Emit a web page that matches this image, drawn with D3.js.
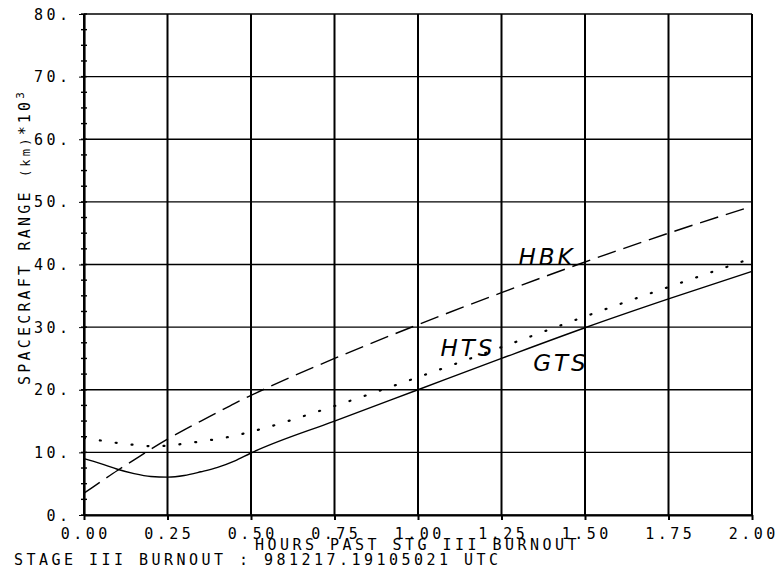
<!DOCTYPE html>
<html>
<head>
<meta charset="utf-8">
<script src="https://cdn.jsdelivr.net/npm/d3@7"></script>
<style>
  html, body { margin: 0; padding: 0; background: #fff; }
  svg { display: block; }
  .lbl { font-family: "DejaVu Sans Mono", monospace; font-size: 15px; letter-spacing: 3.47px; fill: #000; }
  .hand { font-family: "DejaVu Sans", sans-serif; font-style: italic; font-size: 23px; letter-spacing: 3px; fill: #000; }
</style>
</head>
<body>
<script>
// Hours after stage III burnout
const hours = [0, 0.05, 0.1, 0.15, 0.2, 0.25, 0.3, 0.35, 0.4, 0.45, 0.5, 0.75, 1.0, 1.25, 1.5, 1.75, 2.0];
// Range to each station, thousands of km
const gts = [9.0, 8.2, 7.3, 6.6, 6.15, 6.05, 6.3, 6.9, 7.6, 8.6, 9.9, 15.0, 20.0, 25.0, 29.9, 34.5, 38.9];
const hts = [12.3, 11.9, 11.5, 11.2, 11.0, 11.05, 11.4, 11.75, 12.15, 12.65, 13.3, 17.4, 22.0, 26.8, 31.7, 36.4, 41.0];
const hbk = [3.5, 5.3, 7.1, 8.8, 10.5, 12.1, 13.6, 15.0, 16.4, 17.8, 19.1, 25.0, 30.4, 35.5, 40.4, 45.0, 49.3];

const xTicks = [0, 0.25, 0.5, 0.75, 1.0, 1.25, 1.5, 1.75, 2.0];
const xTickLabels = ["0.00", "0.25", "0.50", "0.75", "1.00", "1.25", "1.50", "1.75", "2.00"];
const yTicks = [0, 10, 20, 30, 40, 50, 60, 70, 80];
const yTickLabels = ["0.", "10.", "20.", "30.", "40.", "50.", "60.", "70.", "80."];
const yMinorTicks = d3.range(0, 80.01, 2.5);

const xTitle = "HOURS PAST STG III BURNOUT";
const footer = "STAGE III BURNOUT : 981217.19105021 UTC";
const stationNames = ["HBK", "HTS", "GTS"];

const W = 780, H = 585;
const PITCH = 12.5;              // plotter character cell: 9.03px glyph advance + 3.47px spacing
const inkWidth = s => s.length * PITCH - 3.47;

const svg = d3.select("body").append("svg").attr("width", W).attr("height", H);

const x = d3.scaleLinear().domain([0, 2]).range([84, 752]);
const y = d3.scaleLinear().domain([0, 80]).range([515, 14]);

// grid
const g = svg.append("g");
g.selectAll("line.h").data(yTicks).join("line")
  .attr("x1", x(0)).attr("x2", x(2))
  .attr("y1", d => y(d)).attr("y2", d => y(d))
  .attr("stroke", "#000").attr("stroke-width", 1.4);
g.selectAll("line.v").data(xTicks).join("line")
  .attr("x1", d => x(d)).attr("x2", d => x(d))
  .attr("y1", y(0)).attr("y2", y(80))
  .attr("stroke", "#000").attr("stroke-width", 2);

// bottom axis (ticks only; labels placed below in plotter spacing)
const gx = svg.append("g").attr("transform", `translate(0,${y(0)})`)
  .call(d3.axisBottom(x).tickValues(xTicks).tickFormat("").tickSizeInner(5).tickSizeOuter(0));
gx.select(".domain").attr("stroke-width", 1.8);
gx.selectAll(".tick line").attr("stroke-width", 2);
svg.append("g").selectAll("text").data(xTicks).join("text")
  .attr("class", "lbl").attr("text-anchor", "start")
  .attr("x", (d, i) => x(d) - inkWidth(xTickLabels[i]) / 2)
  .attr("y", y(0) + 24)
  .text((d, i) => xTickLabels[i]);

// left axis
const gy = svg.append("g").attr("transform", `translate(${x(0)},0)`)
  .call(d3.axisLeft(y).tickValues(yTicks).tickFormat("").tickSizeInner(5).tickSizeOuter(0));
gy.select(".domain").attr("stroke-width", 2.2);
svg.append("g").selectAll("text").data(yTicks).join("text")
  .attr("class", "lbl").attr("text-anchor", "start")
  .attr("x", (d, i) => x(0) - 16 - inkWidth(yTickLabels[i]))
  .attr("y", d => y(d) + 5.5)
  .text((d, i) => yTickLabels[i]);

// minor ticks on the left axis
svg.append("g").selectAll("line").data(yMinorTicks).join("line")
  .attr("x1", x(0) - 3).attr("x2", x(0) + 3)
  .attr("y1", d => y(d)).attr("y2", d => y(d))
  .attr("stroke", "#000").attr("stroke-width", 1.4);

// curves: HBK long dashes, HTS dots, GTS solid
const series = [
  { name: "HBK", values: hbk, dash: "19,8", width: 1.4, cap: "butt" },
  { name: "HTS", values: hts, dash: "1,15", width: 2.2, cap: "round" },
  { name: "GTS", values: gts, dash: null, width: 1.4, cap: "butt" }
];
const line = d3.line().x((d, i) => x(hours[i])).y(d => y(d)).curve(d3.curveMonotoneX);
svg.append("g").selectAll("path").data(series).join("path")
  .attr("d", d => line(d.values))
  .attr("fill", "none").attr("stroke", "#000")
  .attr("stroke-width", d => d.width)
  .attr("stroke-linecap", d => d.cap)
  .attr("stroke-dasharray", d => d.dash);

// station names written beside the curves
const namePos = { HBK: [1.301, 40.0], HTS: [1.067, 25.4], GTS: [1.345, 23.0] };
svg.append("g").selectAll("text").data(stationNames).join("text")
  .attr("class", "hand")
  .attr("x", d => x(namePos[d][0]))
  .attr("y", d => y(namePos[d][1]))
  .text(d => d);

// axis titles
svg.append("text").attr("class", "lbl").attr("x", 255).attr("y", 550).text(xTitle);
svg.append("text").attr("class", "lbl").attr("x", 14).attr("y", 565).text(footer);

const yt = svg.append("text").attr("class", "lbl")
  .style("letter-spacing", "3.2px")
  .attr("transform", "translate(30,385) rotate(-90)");
yt.append("tspan").text("SPACECRAFT RANGE ");
yt.append("tspan").attr("font-size", "12px").text("(km)");
yt.append("tspan").text("*10");
yt.append("tspan").attr("font-size", "11px").attr("dy", "-6").text("3");
</script>
</body>
</html>
